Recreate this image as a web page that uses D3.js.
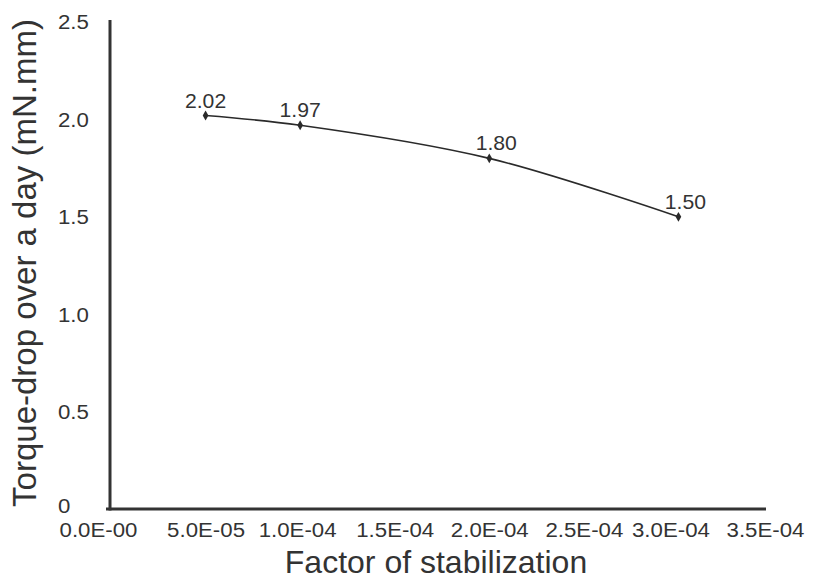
<!DOCTYPE html>
<html>
<head>
<meta charset="utf-8">
<script src="https://cdn.jsdelivr.net/npm/d3@7"></script>
<style>
  html, body { margin: 0; padding: 0; background: #fff; }
  svg { display: block; font-family: "Liberation Sans", Arial, sans-serif; }
</style>
</head>
<body>
<svg id="chart" width="820" height="579"></svg>
<script>
// Data
const factors = [5.0e-5, 1.0e-4, 2.0e-4, 3.0e-4];
const torqueDrop = [2.02, 1.97, 1.80, 1.50];
const pointLabels = ["2.02", "1.97", "1.80", "1.50"];
const xTicks = [0, 5e-5, 1e-4, 1.5e-4, 2e-4, 2.5e-4, 3e-4, 3.5e-4];
const xTickLabels = ["0.0E-00", "5.0E-05", "1.0E-04", "1.5E-04", "2.0E-04", "2.5E-04", "3.0E-04", "3.5E-04"];
const yTicks = [0, 0.5, 1.0, 1.5, 2.0, 2.5];
const yTickLabels = ["0", "0.5", "1.0", "1.5", "2.0", "2.5"];
const xTitle = "Factor of stabilization";
const yTitle = "Torque-drop over a day (mN.mm)";

const svg = d3.select("#chart");
const axisColor = "#333";
const textColor = "#333";
const sx = 1.06; // horizontal stretch of the small labels

const x = d3.scaleLinear().domain([0, 3.5e-4]).range([111, 773]);
const y = d3.scaleLinear().domain([0, 2.5]).range([509, 22]);

// X axis
const xAxis = d3.axisBottom(x)
  .tickValues(xTicks)
  .tickFormat((d, i) => xTickLabels[i])
  .tickSize(0)
  .tickPadding(13);
const gx = svg.append("g").attr("transform", `translate(0,${y(0)})`).call(xAxis);
gx.select(".domain").remove();
gx.append("line")
  .attr("x1", x(0) - 5).attr("x2", x(3.5e-4) - 7)
  .attr("y1", 0).attr("y2", 0)
  .attr("stroke", axisColor).attr("stroke-width", 3);
gx.selectAll(".tick text")
  .attr("fill", textColor)
  .style("font-size", "21px")
  .attr("font-family", "'Liberation Sans', Arial, sans-serif")
  .attr("x", (d, i) => (i === 0 ? -13 : (i >= 6 ? -8 : (i === 2 ? -3 : 0))) / sx)
  .attr("transform", `scale(${sx},1)`);

// Y axis
const yAxis = d3.axisLeft(y)
  .tickValues(yTicks)
  .tickFormat((d, i) => yTickLabels[i])
  .tickSize(0)
  .tickPadding(0);
const gy = svg.append("g").attr("transform", `translate(${x(0) - 1},0)`).call(yAxis);
gy.select(".domain").remove();
gy.append("line")
  .attr("x1", 0).attr("x2", 0)
  .attr("y1", y(0) + 1.5).attr("y2", y(2.5) - 2)
  .attr("stroke", axisColor).attr("stroke-width", 3);
gy.selectAll(".tick text")
  .attr("fill", textColor)
  .attr("text-anchor", "start")
  .attr("x", (58 - x(0) + 1) / sx)
  .attr("y", (d, i) => i === 0 ? -3 : 0)
  .attr("dy", "0.33em")
  .attr("transform", `scale(${sx},1)`)
  .style("font-size", "21px")
  .attr("font-family", "'Liberation Sans', Arial, sans-serif");

// Line
const pts = factors.map((f, i) => ({ f, v: torqueDrop[i], label: pointLabels[i] }));
const line = d3.line()
  .x(d => x(d.f))
  .y(d => y(d.v))
  .curve(d3.curveCatmullRom.alpha(0.5));
svg.append("path")
  .datum(pts)
  .attr("d", line)
  .attr("fill", "none")
  .attr("stroke", "#2a2a2a")
  .attr("stroke-width", 1.6);

// Markers (diamonds)
svg.selectAll(".marker")
  .data(pts)
  .enter().append("path")
  .attr("class", "marker")
  .attr("d", d3.symbol().type(d3.symbolDiamond).size(28))
  .attr("transform", d => `translate(${x(d.f)},${y(d.v)})`)
  .attr("fill", "#2a2a2a");

// Data labels
svg.selectAll(".dlabel")
  .data(pts)
  .enter().append("text")
  .attr("class", "dlabel")
  .attr("transform", (d, i) => `translate(${x(d.f) + (i >= 2 ? 7 : 0)},${y(d.v) - 8}) scale(${sx},1)`)
  .attr("text-anchor", "middle")
  .attr("fill", textColor)
  .style("font-size", "20px")
  .text(d => d.label);

// Axis titles
svg.append("text")
  .attr("x", 436)
  .attr("y", 573)
  .attr("text-anchor", "middle")
  .attr("fill", textColor)
  .style("font-size", "32px")
  .text(xTitle);

svg.append("text")
  .attr("transform", "translate(36,263) rotate(-90)")
  .attr("text-anchor", "middle")
  .attr("fill", textColor)
  .style("font-size", "33px")
  .text(yTitle);
</script>
</body>
</html>
